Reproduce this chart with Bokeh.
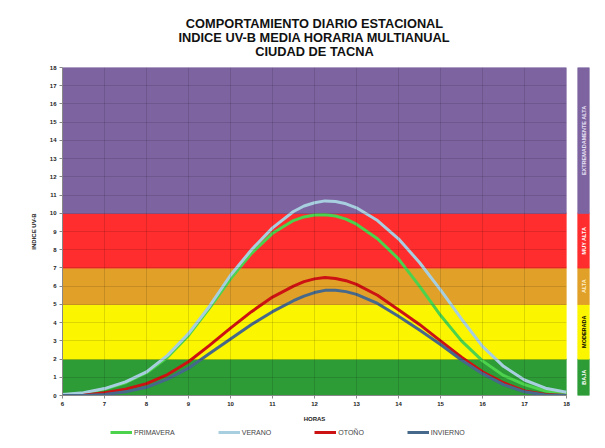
import math
from bokeh.plotting import figure
from bokeh.models import Range1d, Legend, LegendItem, FixedTicker, ColumnDataSource, Title
from bokeh.layouts import row, column
from bokeh.embed import file_html
from bokeh.resources import INLINE
from bokeh.core.properties import value

# ---- data ----
hours = [6.0, 6.5, 7.0, 7.5, 8.0, 8.5, 9.0, 9.5, 10.0, 10.5, 11.0, 11.5, 11.75, 12.0,
         12.25, 12.5, 12.75, 13.0, 13.5, 14.0, 14.5, 15.0, 15.5, 16.0, 16.5, 17.0, 17.5, 18.0]
primavera = [0.03, 0.12, 0.35, 0.7, 1.25, 2.1, 3.3, 4.8, 6.4, 7.8, 8.9, 9.6, 9.8, 9.9,
             9.92, 9.85, 9.68, 9.4, 8.6, 7.5, 6.0, 4.4, 3.0, 1.9, 1.1, 0.6, 0.25, 0.1]
verano = [0.05, 0.15, 0.38, 0.75, 1.3, 2.2, 3.4, 4.9, 6.6, 8.0, 9.2, 10.1, 10.4, 10.58,
          10.68, 10.65, 10.52, 10.3, 9.6, 8.6, 7.3, 5.8, 4.2, 2.7, 1.6, 0.85, 0.4, 0.18]
otono = [0.0, 0.02, 0.15, 0.35, 0.65, 1.15, 1.85, 2.75, 3.7, 4.6, 5.4, 6.0, 6.25, 6.4,
         6.47, 6.42, 6.3, 6.1, 5.5, 4.7, 3.9, 3.0, 2.1, 1.3, 0.7, 0.25, 0.05, 0.0]
invierno = [0.0, 0.0, 0.05, 0.2, 0.45, 0.9, 1.5, 2.3, 3.1, 3.9, 4.6, 5.2, 5.45, 5.65,
            5.77, 5.78, 5.7, 5.55, 5.05, 4.35, 3.6, 2.8, 1.95, 1.2, 0.6, 0.2, 0.03, 0.0]

series_names = ["PRIMAVERA", "VERANO", "OTOÑO", "INVIERNO"]
series_colors = ["#4cd24c", "#a8cfe0", "#cc1212", "#46688a"]

band_bottom = [0, 2, 5, 7, 10]
band_top = [2, 5, 7, 10, 18]
band_names = ["BAJA", "MODERADA", "ALTA", "MUY ALTA", "EXTREMADAMENTE ALTA"]
band_colors = ["#2d9b36", "#fbf500", "#e1a028", "#ff2d2d", "#7d64a0"]
band_text_colors = ["white", "black", "#fff2d0", "white", "#e8e0f5"]

x_ticks = list(range(6, 19))
y_ticks = list(range(0, 19))

title_lines = ["COMPORTAMIENTO DIARIO ESTACIONAL",
               "INDICE UV-B MEDIA HORARIA MULTIANUAL",
               "CIUDAD DE TACNA"]
FONT = "Liberation Sans"
series = [primavera, verano, otono, invierno]

yr = Range1d(y_ticks[0], y_ticks[-1])

p = figure(width=572, height=425, x_range=Range1d(x_ticks[0], x_ticks[-1]), y_range=yr,
           output_backend="svg", toolbar_location=None,
           min_border_left=62, min_border_right=6, min_border_top=67, min_border_bottom=30,
           background_fill_color="white", border_fill_color="white",
           outline_line_color=None)

def style_title(t, standoff, size="12.8px"):
    t.align = "center"
    t.text_font = FONT
    t.text_font_size = size
    t.text_font_style = "bold"
    t.text_color = "#111111"
    t.standoff = standoff

# p.title ends up outermost; added titles stack from the frame outward
p.title.text = title_lines[0]
style_title(p.title, -3)
spacer = Title(text=" ")
style_title(spacer, 6.5, size="1px")
p.add_layout(spacer, "above")
t3 = Title(text=title_lines[2])
style_title(t3, -3)
p.add_layout(t3, "above")
t2 = Title(text=title_lines[1])
style_title(t2, -3)
p.add_layout(t2, "above")

band_src = ColumnDataSource(dict(bottom=band_bottom, top=band_top, color=band_colors))
p.quad(left=x_ticks[0], right=x_ticks[-1], bottom="bottom", top="top", color="color",
       source=band_src, level="underlay")

for g in (p.xgrid, p.ygrid):
    g.grid_line_color = "black"
    g.grid_line_alpha = 0.12
    g.level = "glyph"
p.xgrid.ticker = FixedTicker(ticks=x_ticks)
p.ygrid.ticker = FixedTicker(ticks=y_ticks)

for ax in (p.xaxis[0], p.yaxis[0]):
    ax.major_label_text_font = FONT
    ax.major_label_text_font_size = "6px"
    ax.major_label_text_font_style = "bold"
    ax.major_label_text_color = "#222222"
    ax.axis_label_text_font = FONT
    ax.axis_label_text_font_size = "6px"
    ax.axis_label_text_font_style = "bold"
    ax.axis_label_text_color = "#222222"
    ax.major_tick_out = 3
    ax.major_tick_in = 0
    ax.minor_tick_out = 0
    ax.minor_tick_in = 0
    ax.axis_line_color = "#888888"
    ax.major_tick_line_color = "#888888"
    ax.major_label_standoff = 3

p.xaxis.ticker = FixedTicker(ticks=x_ticks)
p.yaxis.ticker = FixedTicker(ticks=y_ticks)
p.xaxis.axis_label = "HORAS"
p.yaxis.axis_label = "INDICE UV-B"
p.xaxis.axis_label_standoff = 7
p.yaxis.axis_label_standoff = 10

for vals, col in zip(series, series_colors):
    p.line(hours, vals, line_color=col, line_width=3, line_join="round")

# ---- side scale bar ----
b = figure(width=25, height=425, x_range=Range1d(0, 1), y_range=yr,
           output_backend="svg", toolbar_location=None,
           x_axis_location=None, y_axis_location=None,
           min_border_left=5, min_border_right=8, min_border_top=67, min_border_bottom=30,
           background_fill_color="white", border_fill_color="white", outline_line_color=None)
b.grid.visible = False
mids = [(lo + hi) / 2 for lo, hi in zip(band_bottom, band_top)]
bar_src = ColumnDataSource(dict(bottom=band_bottom, top=band_top, color=band_colors,
                                mid=mids, name=band_names, tcol=band_text_colors))
b.quad(left=0, right=1, bottom="bottom", top="top", color="color", source=bar_src)
b.text(x=0.5, y="mid", text="name", angle=math.pi / 2, text_align="center",
       text_baseline="middle", text_color="tcol", text_font=value(FONT),
       text_font_style="bold", text_font_size="5.5px", source=bar_src)

# ---- legend strip (its line renderers lie outside its ranges, only the legend shows) ----
lf = figure(width=597, height=15, x_range=Range1d(-3, -2), y_range=Range1d(-3, -2),
            output_backend="svg", toolbar_location=None,
            x_axis_location=None, y_axis_location=None,
            min_border_left=0, min_border_right=0, min_border_top=0, min_border_bottom=0,
            background_fill_color="white", border_fill_color="white", outline_line_color=None)
lf.grid.visible = False
leg_r = [lf.line(hours, vals, line_color=col, line_width=3) for vals, col in zip(series, series_colors)]
legend = Legend(items=[LegendItem(label=n, renderers=[r]) for n, r in zip(series_names, leg_r)],
                orientation="horizontal", location=(110, 4), spacing=43,
                glyph_width=22, glyph_height=8, label_standoff=2, label_height=8,
                label_text_font=FONT, label_text_font_size="7px", label_text_color="#444444",
                padding=0, margin=0, border_line_color=None, background_fill_alpha=0)
lf.add_layout(legend, "center")

layout = column(row(p, b), lf)
open("out.html", "w").write(file_html(layout, INLINE))
